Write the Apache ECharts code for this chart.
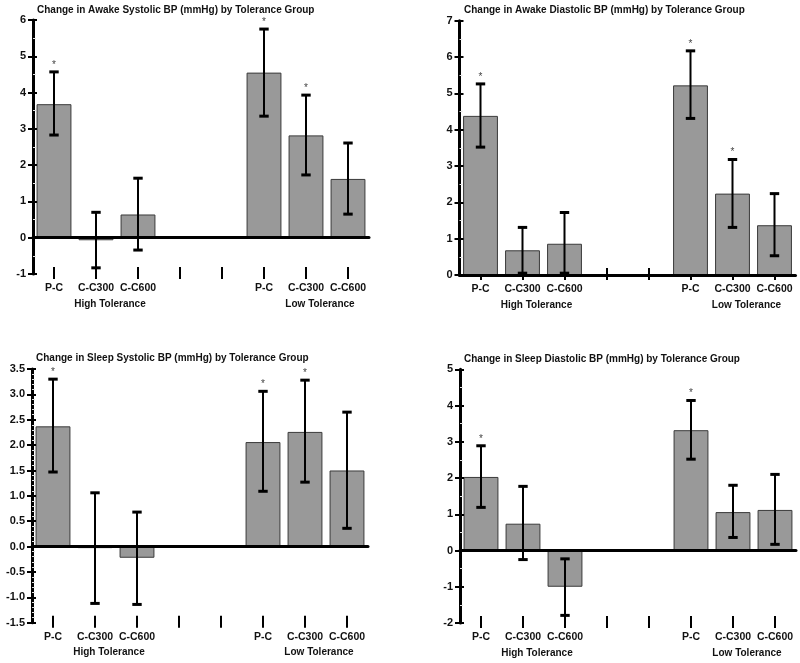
<!DOCTYPE html>
<html><head><meta charset="utf-8">
<script src="https://cdn.jsdelivr.net/npm/echarts@6/dist/echarts.min.js"></script>
<style>html,body{margin:0;padding:0;background:#fff}#c{width:800px;height:663px}</style>
</head><body><div id="c"></div>
<script>
// ---- data ----
const categories = ['P-C', 'C-C300', 'C-C600', '', '', 'P-C', 'C-C300', 'C-C600'];
const groupLabels = ['High Tolerance', 'Low Tolerance'];
const groupLabelIndex = [1, 6];
const titles = [
  'Change in Awake Systolic BP (mmHg) by Tolerance Group',
  'Change in Awake Diastolic BP (mmHg) by Tolerance Group',
  'Change in Sleep Systolic BP (mmHg) by Tolerance Group',
  'Change in Sleep Diastolic BP (mmHg) by Tolerance Group'
];
// Awake systolic
const awakeSysMean = [3.68, -0.07, 0.64, null, null, 4.55, 2.82, 1.62];
const awakeSysLow  = [2.83, -0.83, -0.34, null, null, 3.35, 1.73, 0.65];
const awakeSysHigh = [4.57, 0.70, 1.64, null, null, 5.75, 3.93, 2.61];
const awakeSysSig  = [1, 0, 0, 0, 0, 1, 1, 0];
// Awake diastolic
const awakeDiaMean = [4.38, 0.68, 0.86, null, null, 5.22, 2.24, 1.37];
const awakeDiaLow  = [3.52, 0.05, 0.05, null, null, 4.31, 1.31, 0.53];
const awakeDiaHigh = [5.26, 1.31, 1.72, null, null, 6.17, 3.18, 2.24];
const awakeDiaSig  = [1, 0, 0, 0, 0, 1, 1, 0];
// Sleep systolic
const sleepSysMean = [2.37, -0.03, -0.22, null, null, 2.06, 2.26, 1.50];
const sleepSysLow  = [1.47, -1.12, -1.14, null, null, 1.09, 1.27, 0.36];
const sleepSysHigh = [3.30, 1.06, 0.68, null, null, 3.06, 3.28, 2.65];
const sleepSysSig  = [1, 0, 0, 0, 0, 1, 1, 0];
// Sleep diastolic
const sleepDiaMean = [2.03, 0.74, -1.00, null, null, 3.32, 1.06, 1.12];
const sleepDiaLow  = [1.19, -0.25, -1.79, null, null, 2.52, 0.36, 0.17];
const sleepDiaHigh = [2.89, 1.77, -0.23, null, null, 4.14, 1.80, 2.10];
const sleepDiaSig  = [1, 0, 0, 0, 0, 1, 0, 0];
// axis scales
const yMins = [-1, 0, -1.5, -2];
const yMaxs = [6, 7, 3.5, 5];
const yIntervals = [1, 1, 0.5, 1];
const yDecimals = [0, 0, 1, 0];
const yMinorSplit = [2, 2, 5, 2];

// ---- layout ----
const FONT = '"Liberation Sans", Arial, sans-serif';
const panels = [
  {mean: awakeSysMean, low: awakeSysLow, high: awakeSysHigh, sig: awakeSysSig,
   grid: {left: 33, top: 20, width: 336, height: 254}, tl: {left: 37, top: 5}},
  {mean: awakeDiaMean, low: awakeDiaLow, high: awakeDiaHigh, sig: awakeDiaSig,
   grid: {left: 459.5, top: 20.7, width: 336, height: 254.3}, tl: {left: 464, top: 5}},
  {mean: sleepSysMean, low: sleepSysLow, high: sleepSysHigh, sig: sleepSysSig,
   grid: {left: 32, top: 369, width: 336, height: 253.7}, tl: {left: 36, top: 353}},
  {mean: sleepDiaMean, low: sleepDiaLow, high: sleepDiaHigh, sig: sleepDiaSig,
   grid: {left: 460, top: 369.3, width: 336, height: 253.7}, tl: {left: 464, top: 354}}
];

const option = {
  animation: false,
  backgroundColor: '#fff',
  title: [], grid: [], xAxis: [], yAxis: [], series: []
};

panels.forEach((p, i) => {
  option.title.push({
    text: titles[i], left: p.tl.left, top: p.tl.top, padding: 0,
    textStyle: {fontFamily: FONT, fontSize: 10, fontWeight: 'bold', color: '#111'}
  });
  option.grid.push(Object.assign({outerBoundsMode: 'none', containLabel: false}, p.grid));
  // zero line axis
  option.xAxis.push({
    gridIndex: i, type: 'category', data: categories, position: 'bottom', z: 10,
    axisLine: {show: true, onZero: true, lineStyle: {color: '#000', width: 3}},
    axisTick: {show: false}, axisLabel: {show: false}, splitLine: {show: false}
  });
  // tick + label axis
  option.xAxis.push({
    gridIndex: i, type: 'category', data: categories, position: 'bottom', offset: -7,
    axisLine: {show: false, onZero: false},
    axisTick: {show: true, alignWithLabel: true, length: 12, interval: 0,
               lineStyle: {color: '#000', width: 2}},
    axisLabel: {
      show: true, interval: 0, margin: 14,
      formatter: (v, idx) => {
        if (!v) return '';
        const g = groupLabelIndex.indexOf(idx);
        return g >= 0 ? '{a|' + v + '}\n{g|' + groupLabels[g] + '}' : '{a|' + v + '}';
      },
      rich: {
        a: {fontFamily: FONT, fontSize: 10.5, fontWeight: 'bold', color: '#111', lineHeight: 14},
        g: {fontFamily: FONT, fontSize: 10, fontWeight: 'bold', color: '#111', lineHeight: 18,
            padding: [0, 0, 0, 28]}
      }
    },
    splitLine: {show: false}
  });
  const dec = yDecimals[i];
  option.yAxis.push({
    gridIndex: i, type: 'value', position: 'left',
    min: yMins[i], max: yMaxs[i], interval: yIntervals[i], z: 10,
    axisLine: {show: true, onZero: false, lineStyle: {color: '#000', width: 3}},
    axisTick: {show: true, length: 5, lineStyle: {color: '#000', width: 2}},
    axisLabel: {fontFamily: FONT, fontSize: 11, fontWeight: 'bold', color: '#111', margin: 7,
                formatter: v => v.toFixed(dec)},
    splitLine: {show: false}
  });
  option.yAxis.push({
    gridIndex: i, type: 'value', position: 'left',
    min: yMins[i], max: yMaxs[i], interval: yIntervals[i], z: 10,
    axisLine: {show: false, onZero: false},
    axisTick: {show: true, inside: true, length: 4, lineStyle: {color: '#000', width: 2}},
    minorTick: {show: true, splitNumber: yMinorSplit[i], length: 3,
                lineStyle: {color: '#e2e2e2', width: 1}},
    axisLabel: {show: false},
    splitLine: {show: false}
  });
  option.series.push({
    type: 'bar', xAxisIndex: 2 * i + 1, yAxisIndex: 2 * i,
    data: p.mean, barWidth: '83%', z: 2,
    itemStyle: {color: '#999999', borderColor: '#3a3a3a', borderWidth: 1}
  });
  const errData = [];
  p.mean.forEach((m, k) => {
    if (m !== null) errData.push([k, p.low[k], p.high[k], p.sig[k]]);
  });
  option.series.push({
    type: 'custom', xAxisIndex: 2 * i + 1, yAxisIndex: 2 * i, z: 4,
    data: errData,
    encode: {x: 0, y: [1, 2]},
    renderItem: (params, api) => {
      const x = api.value(0);
      const pl = api.coord([x, api.value(1)]);
      const ph = api.coord([x, api.value(2)]);
      const cap = 4.7;
      const children = [
        {type: 'line', shape: {x1: pl[0], y1: pl[1], x2: ph[0], y2: ph[1]},
         style: {stroke: '#000', lineWidth: 2}},
        {type: 'line', shape: {x1: pl[0] - cap, y1: pl[1], x2: pl[0] + cap, y2: pl[1]},
         style: {stroke: '#000', lineWidth: 3}},
        {type: 'line', shape: {x1: ph[0] - cap, y1: ph[1], x2: ph[0] + cap, y2: ph[1]},
         style: {stroke: '#000', lineWidth: 3}}
      ];
      if (api.value(3)) {
        children.push({type: 'text', style: {text: '*', x: ph[0], y: ph[1] - 2,
          align: 'center', verticalAlign: 'bottom', fontSize: 10, fontFamily: FONT, fill: '#444'}});
      }
      return {type: 'group', children: children};
    }
  });
});

const chart = echarts.init(document.getElementById('c'), null, {renderer: 'canvas'});
chart.setOption(option);
</script>
</body></html>
